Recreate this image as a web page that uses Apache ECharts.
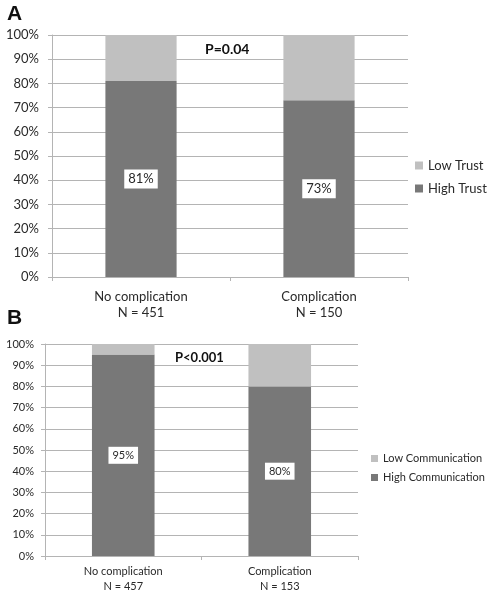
<!DOCTYPE html>
<html>
<head>
<meta charset="utf-8">
<script src="https://cdn.jsdelivr.net/npm/echarts@6/dist/echarts.min.js"></script>
<style>
html,body{margin:0;padding:0;background:#fff;}
#c{width:489px;height:600px;}
</style>
</head>
<body>
<div id="c"></div>
<script>
var categoriesA = ['No complication\nN = 451', 'Complication\nN = 150'];
var highTrust = [81, 73];
var lowTrust = [19, 27];
var categoriesB = ['No complication\nN = 457', 'Complication\nN = 153'];
var highComm = [95, 80];
var lowComm = [5, 20];
var yTicks = {min: 0, max: 100, interval: 10};

var FONT = 'Lato';
var DARK = '#787878', LIGHT = '#c0c0c0', TXT = '#2a2a2a', GRID = '#b4b4b4';

function yAxis(gi, fs, margin) {
  return {
    type: 'value', gridIndex: gi, min: yTicks.min, max: yTicks.max, interval: yTicks.interval,
    axisLine: {show: true, lineStyle: {color: GRID}},
    axisTick: {show: true, length: 4, lineStyle: {color: GRID}},
    splitLine: {show: true, lineStyle: {color: GRID, width: 1}},
    axisLabel: {formatter: '{value}%', color: TXT, fontFamily: FONT, fontSize: fs, margin: margin}
  };
}
function xAxis(gi, cats, fs, lh, margin) {
  return {
    type: 'category', gridIndex: gi, data: cats,
    axisLine: {show: true, lineStyle: {color: GRID}},
    axisTick: {show: true, length: 4, alignWithLabel: false, lineStyle: {color: GRID}},
    axisLabel: {color: TXT, fontFamily: FONT, fontSize: fs, lineHeight: lh, margin: margin, interval: 0}
  };
}
function lbl(fs) {
  return {
    show: true, position: 'inside', formatter: '{c}%', color: TXT, fontFamily: FONT, fontSize: fs,
    backgroundColor: '#ffffff', padding: [3, 4]
  };
}

var chart = echarts.init(document.getElementById('c'), null, {renderer: 'canvas'});
chart.setOption({
  animation: false,
  backgroundColor: '#ffffff',
  grid: [
    {left: 52, right: 81, top: 35, bottom: 323},
    {left: 45, right: 131, top: 344, bottom: 44}
  ],
  xAxis: [xAxis(0, categoriesA, 13, 16, 12), xAxis(1, categoriesB, 11, 15, 8)],
  yAxis: [yAxis(0, 13, 13), yAxis(1, 11, 11)],
  legend: [
    {orient: 'vertical', left: 410, top: 154, data: ['Low Trust', 'High Trust'],
     icon: 'rect', itemWidth: 8, itemHeight: 8, itemGap: 10,
     textStyle: {color: TXT, fontFamily: FONT, fontSize: 13}},
    {orient: 'vertical', left: 366, top: 448, data: ['Low Communication', 'High Communication'],
     icon: 'rect', itemWidth: 7, itemHeight: 7, itemGap: 8,
     textStyle: {color: TXT, fontFamily: FONT, fontSize: 11}}
  ],
  series: [
    {name: 'High Trust', type: 'bar', stack: 'a', xAxisIndex: 0, yAxisIndex: 0, barWidth: '40%',
     data: highTrust, itemStyle: {color: DARK}, label: lbl(13)},
    {name: 'Low Trust', type: 'bar', stack: 'a', xAxisIndex: 0, yAxisIndex: 0, barWidth: '40%',
     data: lowTrust, itemStyle: {color: LIGHT}},
    {name: 'High Communication', type: 'bar', stack: 'b', xAxisIndex: 1, yAxisIndex: 1, barWidth: '40%',
     data: highComm, itemStyle: {color: DARK}, label: lbl(11)},
    {name: 'Low Communication', type: 'bar', stack: 'b', xAxisIndex: 1, yAxisIndex: 1, barWidth: '40%',
     data: lowComm, itemStyle: {color: LIGHT}}
  ],
  graphic: [
    {type: 'text', left: 7, top: 4, style: {text: 'A', font: 'bold 21px "Liberation Sans"', fill: '#111'}},
    {type: 'text', left: 7, top: 308, style: {text: 'B', font: 'bold 21px "Liberation Sans"', fill: '#111'}},
    {type: 'text', left: 205, top: 42, style: {text: 'P=0.04', font: 'bold 14px Lato', fill: '#111'}},
    {type: 'text', left: 175, top: 351, style: {text: 'P<0.001', font: 'bold 13px Lato', fill: '#111'}}
  ]
});
</script>
</body>
</html>
